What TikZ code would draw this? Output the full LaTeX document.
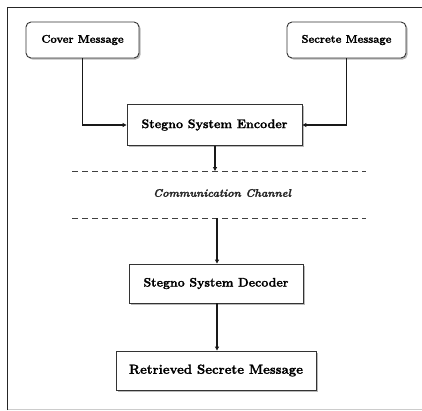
\documentclass[tikz,border=0pt]{standalone}
\usepackage{fontspec}
\setmainfont{Latin Modern Roman}[BoldFeatures={FakeBold=1.5},BoldItalicFeatures={FakeBold=1.5}]
\usetikzlibrary{shadows,arrows.meta}
\begin{document}
\begin{tikzpicture}[x=1pt,y=-1pt,
  box/.style={draw=black!80,line width=0.9pt,fill=white,inner sep=0pt,
    font=\bfseries,text=black,
    drop shadow={shadow xshift=1.6pt,shadow yshift=-1.6pt,fill=black!45,opacity=0.6}},
  rbox/.style={box,rounded corners=5pt},
  conn/.style={draw=black!90,line width=1.2pt,-{Triangle[length=4pt,width=4pt]}},
  chan/.style={draw=black!75,line width=1pt,dash pattern=on 6pt off 4pt}]
\useasboundingbox (0,0) rectangle (422,410);
% frame
\draw[black!85,line width=1.6pt] (7.5,410) -- (7.5,7.5) -- (422,7.5);
\draw[black!20,line width=1pt] (8,409) -- (422,409);
% nodes
\node[rbox,minimum width=113pt,minimum height=36pt,font=\fontsize{11.2}{13}\bfseries] (cover) at (82.5,40) {Cover Message};
\node[rbox,minimum width=119pt,minimum height=36pt,font=\fontsize{11.2}{13}\bfseries] (secret) at (346.5,40) {Secrete Message};
\node[box,minimum width=175pt,minimum height=41pt,font=\fontsize{12.5}{14}\bfseries] (enc) at (214.5,125) {Stegno System Encoder};
\node[box,minimum width=174pt,minimum height=39pt,font=\fontsize{12.4}{14}\bfseries] (dec) at (216,283.5) {Stegno System Decoder};
\node[box,minimum width=200pt,minimum height=39pt,font=\fontsize{13.2}{15}\bfseries] (ret) at (216,370.5) {Retrieved Secrete Message};
% channel
\coordinate (c1l) at (72,171);
\coordinate (c1r) at (366,171);
\coordinate (c2l) at (72,218);
\coordinate (c2r) at (366,218);
\draw[chan] (c1l) -- (c1r);
\draw[chan] (c2l) -- (c2r);
\node[inner sep=0pt,text=black!85,font=\fontsize{11}{13}\bfseries\itshape] (ch) at (222,193) {Communication Channel};
% connectors
\draw[conn] (cover.south) |- (enc.west);
\draw[conn] (secret.south) |- (enc.east);
\coordinate (e1) at (215,171);
\draw[conn] (enc.south -| e1) -- (e1);
\coordinate (d1) at (217,218);
\draw[conn] (d1) -- (dec.north -| d1);
\draw[conn] (dec.south -| d1) -- (ret.north -| d1);
\end{tikzpicture}
\end{document}
